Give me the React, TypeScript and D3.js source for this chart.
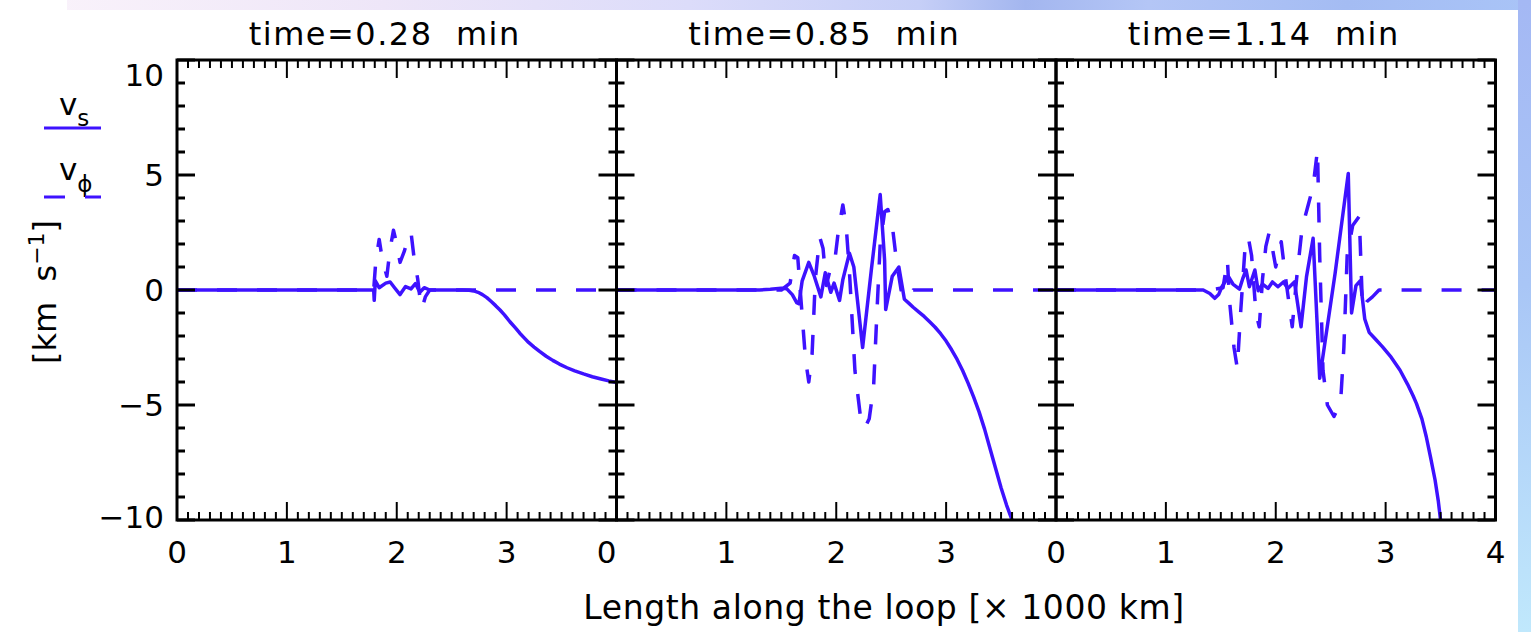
import React from "react";
import * as d3 from "d3";

const W = 1531;
const H = 632;

// Panel titles and axis ticks
const panelTitles = ["time=0.28  min", "time=0.85  min", "time=1.14  min"];
const xTickValues = [0, 1, 2, 3, 4];
const yTickValues = [-10, -5, 0, 5, 10];
const xLabelsShown = [
  [0, 1, 2, 3],
  [0, 1, 2, 3],
  [0, 1, 2, 3, 4],
];

// time = 0.28 min
const vsX_028 = [0, 1.5, 1.79, 1.795, 1.805, 1.84, 1.9, 1.94, 1.98, 2.03, 2.08, 2.13, 2.17, 2.21, 2.25, 2.3, 2.6, 2.66, 2.7, 2.74, 2.78, 2.82, 2.86, 2.9, 2.94, 2.98, 3.03, 3.08, 3.12, 3.16, 3.2, 3.25, 3.3, 3.36, 3.42, 3.48, 3.55, 3.62, 3.7, 3.78, 3.86, 3.93, 4.0];
const vsY_028 = [0, 0, 0, -0.45, 0.4, 0.1, 0.3, 0.35, 0.1, -0.2, 0.15, 0.05, 0.28, -0.1, 0.1, 0, 0, -0.01, -0.04, -0.1, -0.2, -0.33, -0.5, -0.68, -0.87, -1.08, -1.38, -1.65, -1.88, -2.08, -2.28, -2.48, -2.67, -2.88, -3.06, -3.22, -3.38, -3.52, -3.65, -3.77, -3.87, -3.95, -4.02];
const vpX_028 = [0, 1.79, 1.81, 1.84, 1.87, 1.91, 1.94, 1.97, 2.0, 2.03, 2.07, 2.11, 2.13, 2.16, 2.19, 2.21, 2.23, 2.26, 2.3, 4.0];
const vpY_028 = [0, 0, 1.3, 2.2, 1.3, 0.6, 1.8, 2.6, 2.0, 1.2, 1.7, 2.4, 2.5, 1.3, 0.5, -0.3, -0.8, -0.3, 0, 0];

// time = 0.85 min
const vsX_085 = [0, 1.3, 1.4, 1.5, 1.55, 1.6, 1.64, 1.66, 1.69, 1.75, 1.8, 1.86, 1.9, 1.95, 1.98, 2.03, 2.06, 2.12, 2.16, 2.24, 2.32, 2.4, 2.44, 2.45, 2.51, 2.57, 2.62, 2.66, 2.7, 2.75, 2.8, 2.85, 2.9, 2.95, 3.0, 3.05, 3.1, 3.15, 3.2, 3.25, 3.3, 3.35, 3.4, 3.45, 3.5, 3.55, 3.6];
const vsY_085 = [0, 0, 0.03, 0.08, 0.05, -0.2, -0.55, -0.6, 0.4, 1.2, 0.6, -0.3, 0.75, -0.1, 0.3, -0.45, 0.45, 1.6, 1.0, -2.5, 0.9, 4.15, 1.3, -0.85, 0.6, 1.0, -0.4, -0.57, -0.75, -0.95, -1.15, -1.38, -1.62, -1.9, -2.22, -2.6, -3.02, -3.5, -4.05, -4.65, -5.3, -6.05, -6.9, -7.75, -8.6, -9.35, -10];
const vpX_085 = [0, 1.5, 1.58, 1.62, 1.65, 1.68, 1.72, 1.75, 1.78, 1.81, 1.85, 1.88, 1.91, 1.94, 1.98, 2.02, 2.06, 2.09, 2.12, 2.17, 2.22, 2.26, 2.3, 2.34, 2.37, 2.4, 2.44, 2.47, 2.51, 2.55, 2.59, 2.62, 2.66, 2.7, 4.0];
const vpY_085 = [0, 0, 0.3, 1.5, 1.4, -0.5, -3.0, -4.0, -2.8, 0.5, 2.3, 1.8, 0.2, 0.8, 1.0, 2.6, 3.7, 2.8, 0.8, -3.5, -5.5, -6.0, -5.6, -4.2, -1.0, 2.0, 3.4, 3.5, 2.8, 1.2, 0.0, -0.35, -0.3, 0, 0];

// time = 1.14 min
const vsX_114 = [0, 1.34, 1.4, 1.445, 1.48, 1.51, 1.57, 1.61, 1.67, 1.7, 1.73, 1.76, 1.81, 1.84, 1.88, 1.93, 1.97, 2.02, 2.07, 2.11, 2.17, 2.23, 2.28, 2.34, 2.4, 2.54, 2.66, 2.69, 2.73, 2.77, 2.81, 2.85, 2.9, 2.97, 3.05, 3.13, 3.2, 3.25, 3.28, 3.33, 3.37, 3.41, 3.45, 3.48, 3.5];
const vsY_114 = [0, 0, -0.15, -0.36, -0.2, 0.14, 0.58, 0.26, 0.04, 0.5, 0.87, 0.14, 0.87, -0.03, 0.26, 0.07, 0.35, 0.14, 0.35, 0.07, 0.35, -1.6, 0.58, 2.25, -3.84, 0.72, 5.07, -1.0, 0.19, 0.4, -1.26, -1.84, -2.1, -2.46, -2.92, -3.48, -4.1, -4.6, -4.93, -5.6, -6.38, -7.3, -8.26, -9.2, -10];
const vpX_114 = [0, 1.4, 1.52, 1.56, 1.58, 1.62, 1.65, 1.68, 1.72, 1.75, 1.78, 1.82, 1.85, 1.88, 1.91, 1.94, 1.97, 2.0, 2.05, 2.09, 2.15, 2.19, 2.24, 2.29, 2.34, 2.38, 2.4, 2.43, 2.47, 2.53, 2.59, 2.62, 2.65, 2.7, 2.76, 2.79, 2.83, 2.88, 2.94, 4.0];
const vpY_114 = [0, 0, 0.1, 1.3, -0.5, -2.5, -3.4, -1.0, 1.8, 2.3, 1.5, -1.0, -1.6, 0.5, 1.9, 2.5, 1.8, 1.0, 2.1, 0.5, -1.6, 0.5, 2.7, 3.6, 4.5, 6.1, 1.5, -3.5, -5.0, -5.5, -4.9, -2.5, 1.5, 2.8, 3.2, -0.8, -0.5, -0.3, 0, 0];

const vsXs = [vsX_028, vsX_085, vsX_114];
const vsYs = [vsY_028, vsY_085, vsY_114];
const vpXs = [vpX_028, vpX_085, vpX_114];
const vpYs = [vpY_028, vpY_085, vpY_114];

const LINE = "rgb(62,18,255)";
const FONT = "'DejaVu Sans', sans-serif";

const plotLeft = 177;
const panelW = 439.5;
const plotTop = 60;
const plotBottom = 520;

const y = d3.scaleLinear().domain([-10, 10]).range([plotBottom, plotTop]);
const xMinor = d3.range(0, 41).map((i) => i / 10);
const yMinor = d3.range(-10, 11);

function Panel({ idx }: { idx: number }) {
  const x0 = plotLeft + idx * panelW;
  const x = d3.scaleLinear().domain([0, 4]).range([x0, x0 + panelW]);
  const line = d3
    .line<[number, number]>()
    .x((d) => x(d[0]))
    .y((d) => y(d[1]));
  const vs = vsXs[idx].map((v, i) => [v, vsYs[idx][i]] as [number, number]);
  const vp = vpXs[idx].map((v, i) => [v, vpYs[idx][i]] as [number, number]);
  const clipId = `clip-${idx}`;
  const isMajorX = (v: number) => Math.abs(v - Math.round(v)) < 1e-6;
  return (
    <g>
      <defs>
        <clipPath id={clipId}>
          <rect x={x0} y={plotTop} width={panelW} height={plotBottom - plotTop} />
        </clipPath>
      </defs>
      <g clipPath={`url(#${clipId})`} fill="none" stroke={LINE} strokeWidth={3.5} strokeLinejoin="round" strokeLinecap="round">
        <path d={line(vp) || ""} strokeDasharray="20 20" strokeLinecap="butt" />
        <path d={line(vs) || ""} />
      </g>
      {/* x ticks, top and bottom */}
      <g stroke="#000" strokeWidth={2}>
        {xMinor.map((v) => {
          const len = isMajorX(v) ? 18 : 8;
          const px = x(v);
          return (
            <g key={v}>
              <line x1={px} x2={px} y1={plotBottom} y2={plotBottom - len} />
              <line x1={px} x2={px} y1={plotTop} y2={plotTop + len} />
            </g>
          );
        })}
      </g>
      {/* y ticks, left and right */}
      <g stroke="#000" strokeWidth={3}>
        {yMinor.map((v) => {
          const len = v % 5 === 0 ? 18 : 8;
          const py = y(v);
          return (
            <g key={v}>
              <line x1={x0} x2={x0 + len} y1={py} y2={py} />
              <line x1={x0 + panelW} x2={x0 + panelW - len} y1={py} y2={py} />
            </g>
          );
        })}
      </g>
      <rect x={x0} y={plotTop} width={panelW} height={plotBottom - plotTop} fill="none" stroke="#000" strokeWidth={3} />
      {/* x tick labels */}
      <g fontFamily={FONT} fontSize={31} textAnchor="middle" fill="#000">
        {xTickValues
          .filter((v) => xLabelsShown[idx].includes(v))
          .map((v) => (
            <text key={v} x={x(v)} y={563} dx={idx === 1 && v === 0 ? -10 : 0}>
              {v}
            </text>
          ))}
      </g>
      <text x={x0 + panelW / 2 - 12} y={45} fontFamily={FONT} fontSize={32} letterSpacing={1.5} textAnchor="middle" fill="#000" style={{ whiteSpace: "pre" }}>
        {panelTitles[idx]}
      </text>
    </g>
  );
}

export default function App() {
  return (
    <svg width={W} height={H} style={{ position: "absolute", left: 0, top: 0, display: "block" }}>
      <defs>
        <linearGradient id="topBand" x1="0" y1="0" x2="1" y2="0">
          <stop offset="0" stopColor="#fbf4fb" />
          <stop offset="0.25" stopColor="#eee6f8" />
          <stop offset="0.45" stopColor="#dcdcfa" />
          <stop offset="0.6" stopColor="#c6cff7" />
          <stop offset="0.67" stopColor="#a3b6ef" />
          <stop offset="0.75" stopColor="#b4c6f6" />
          <stop offset="0.88" stopColor="#a4bcf3" />
          <stop offset="1" stopColor="#a9c4f7" />
        </linearGradient>
        <linearGradient id="rightBand" x1="0" y1="0" x2="0" y2="1">
          <stop offset="0" stopColor="#a4b8f4" />
          <stop offset="0.45" stopColor="#a9c6f6" />
          <stop offset="1" stopColor="#c0e8fc" />
        </linearGradient>
      </defs>
      <rect x={0} y={0} width={W} height={11} fill="url(#topBand)" />
      <rect x={1518} y={0} width={W - 1518} height={H} fill="url(#rightBand)" />
      <rect x={0} y={10} width={1518} height={H - 10} fill="#fff" />
      <rect x={0} y={0} width={67} height={10} fill="#fff" />

      {[0, 1, 2].map((i) => (
        <Panel key={i} idx={i} />
      ))}

      {/* y tick labels */}
      <g fontFamily={FONT} fontSize={31} textAnchor="end" fill="#000">
        {yTickValues.map((v) => (
          <text key={v} x={164} y={y(v)} dy={v === 10 ? 26 : v === -10 ? 8 : 11}>
            {v < 0 ? `\u2212${Math.abs(v)}` : v}
          </text>
        ))}
      </g>

      {/* axis titles */}
      <text x={884} y={619} fontFamily={FONT} fontSize={33} letterSpacing={0.6} textAnchor="middle" fill="#000" style={{ whiteSpace: "pre" }}>
        Length along the loop [× 1000 km]
      </text>
      <text transform="translate(56,292) rotate(-90)" fontFamily={FONT} fontSize={32} textAnchor="middle" fill="#000" style={{ whiteSpace: "pre" }}>
        [km  s<tspan dy={-12} fontSize={22}>−1</tspan><tspan dy={12}>]</tspan>
      </text>

      {/* legend */}
      <g fontFamily={FONT} fill="#000">
        <text x={59} y={115} fontSize={31}>
          v<tspan dy={11} fontSize={23}>s</tspan>
        </text>
        <line x1={44} x2={101} y1={128} y2={128} stroke={LINE} strokeWidth={3} />
        <text x={59} y={180} fontSize={31}>
          v<tspan dy={12} fontSize={23}>ϕ</tspan>
        </text>
        <line x1={44} x2={101} y1={197} y2={197} stroke={LINE} strokeWidth={3} strokeDasharray="21 20" />
      </g>
    </svg>
  );
}
